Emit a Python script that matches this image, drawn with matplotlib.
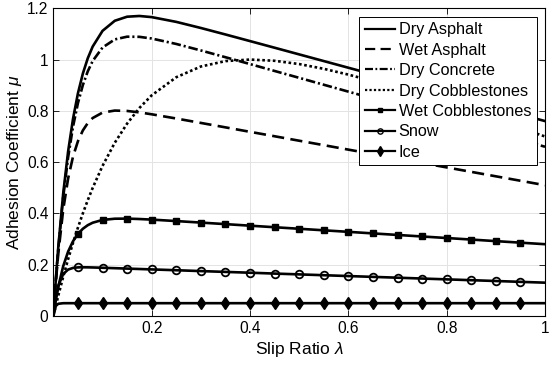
import matplotlib
matplotlib.use("Agg")
import matplotlib.pyplot as plt
from matplotlib.lines import Line2D

plt.rcParams['font.family'] = ['Liberation Sans', 'DejaVu Sans']
plt.rcParams['mathtext.fontset'] = 'custom'
plt.rcParams['mathtext.it'] = 'Liberation Sans:italic'
plt.rcParams['mathtext.rm'] = 'Liberation Sans'

# slip ratio samples
slip = [0, 0.005, 0.01, 0.02, 0.03, 0.04, 0.05, 0.06, 0.07, 0.08, 0.1, 0.125, 0.15, 0.175, 0.2,
        0.25, 0.3, 0.35, 0.4, 0.45, 0.5, 0.55, 0.6, 0.65, 0.7, 0.75, 0.8, 0.85, 0.9, 0.95, 1.0]

dry_asphalt = [0, 0.1421, 0.2678, 0.4774, 0.6412, 0.7690, 0.8684, 0.9454, 1.0050, 1.0507, 1.1119,
               1.1513, 1.1671, 1.1699, 1.1655, 1.1469, 1.1231, 1.0978, 1.0720, 1.0461, 1.0201,
               0.9941, 0.9681, 0.9421, 0.9161, 0.8901, 0.8641, 0.8381, 0.8121, 0.7861, 0.7601]
wet_asphalt = [0, 0.1316, 0.2425, 0.4143, 0.5359, 0.6216, 0.6817, 0.7236, 0.7524, 0.7720, 0.7932,
               0.8011, 0.7996, 0.7940, 0.7866, 0.7701, 0.7529, 0.7356, 0.7182, 0.7009, 0.6835,
               0.6662, 0.6488, 0.6315, 0.6141, 0.5968, 0.5794, 0.5621, 0.5447, 0.5274, 0.5100]
dry_concrete = [0, 0.1389, 0.2610, 0.4628, 0.6184, 0.7383, 0.8303, 0.9006, 0.9541, 0.9945, 1.0469,
                1.0786, 1.0892, 1.0886, 1.0820, 1.0608, 1.0355, 1.0091, 0.9824, 0.9555, 0.9287,
                0.9018, 0.8749, 0.8481, 0.8212, 0.7943, 0.7675, 0.7406, 0.7137, 0.6869, 0.6600]
dry_cobble = [0, 0.0402, 0.0791, 0.1527, 0.2214, 0.2853, 0.3448, 0.4002, 0.4517, 0.4996, 0.5853,
              0.6758, 0.7503, 0.8112, 0.8605, 0.9311, 0.9729, 0.9940, 1.0000, 0.9952, 0.9824,
              0.9639, 0.9413, 0.9157, 0.8880, 0.8587, 0.8282, 0.7969, 0.7650, 0.7327, 0.7000]
wet_cobble = [0, 0.0615, 0.1134, 0.1940, 0.2511, 0.2916, 0.3202, 0.3402, 0.3542, 0.3638, 0.3746,
              0.3794, 0.3798, 0.3782, 0.3759, 0.3702, 0.3643, 0.3583, 0.3522, 0.3462, 0.3402,
              0.3342, 0.3282, 0.3221, 0.3161, 0.3101, 0.3041, 0.2981, 0.2920, 0.2860, 0.2800]
snow = [0, 0.0727, 0.1180, 0.1637, 0.1811, 0.1875, 0.1896, 0.1900, 0.1898, 0.1893, 0.1881,
        0.1865, 0.1849, 0.1833, 0.1817, 0.1785, 0.1752, 0.1720, 0.1688, 0.1655, 0.1623,
        0.1591, 0.1558, 0.1526, 0.1494, 0.1461, 0.1429, 0.1397, 0.1365, 0.1332, 0.1300]
ice = [0, 0.0392, 0.0477, 0.0499] + [0.05] * 27

labels = ['Dry Asphalt', 'Wet Asphalt', 'Dry Concrete', 'Dry Cobblestones',
          'Wet Cobblestones', 'Snow', 'Ice']

# markers every 0.05
mk = [i for i, s in enumerate(slip) if 0 < s < 1 and abs(s * 20 - round(s * 20)) < 1e-9]

lw = 1.9
styles = [
    dict(ls='-'),
    dict(ls=(0, (4.6, 2.4))),
    dict(ls=(0, (3.6, 1.1, 0.8, 1.1))),
    dict(ls=(0, (1.0, 1.0))),
    dict(ls='-', marker='s', ms=5),
    dict(ls='-', marker='o', ms=5.5, mfc='none', mew=1.3),
    dict(ls='-', marker='d', ms=6, mew=1),
]
legend_ms = [None, None, None, None, 3.5, 3.8, 5]
series = [dry_asphalt, wet_asphalt, dry_concrete, dry_cobble, wet_cobble, snow, ice]

fig = plt.figure(figsize=(5.5, 3.69), dpi=100)
ax = fig.add_axes([0.097, 0.1436, 0.894, 0.834])

handles = []
for y, st, lms in zip(series, styles, legend_ms):
    ax.plot(slip, y, color='k', lw=lw, markevery=mk if 'marker' in st else None, **st)
    hst = dict(st)
    if lms:
        hst['ms'] = lms
        hst['mew'] = 1.0
    handles.append(Line2D([], [], color='k', lw=1.6, **hst))

ax.set_xlim(0, 1)
ax.set_ylim(0, 1.2)
ax.set_xticks([0, 0.2, 0.4, 0.6, 0.8, 1.0])
ax.set_xticklabels(['', '0.2', '0.4', '0.6', '0.8', '1'])
ax.set_yticks([0, 0.2, 0.4, 0.6, 0.8, 1.0, 1.2])
ax.set_yticklabels(['0', '0.2', '0.4', '0.6', '0.8', '1', '1.2'])
ax.tick_params(direction='in', top=True, right=True, length=4, width=0.6, labelsize=11.2)
ax.grid(True, color='#e3e3e3', lw=0.7)
ax.set_axisbelow(True)
for sp in ax.spines.values():
    sp.set_linewidth(0.8)

ax.set_xlabel(r'Slip Ratio $\lambda$', fontsize=12.5, labelpad=3)
ax.set_ylabel(r'Adhesion Coefficient $\mu$', fontsize=12.5, labelpad=2)

leg = ax.legend(handles, labels, loc='upper right', bbox_to_anchor=(0.9835, 0.9725),
                borderaxespad=0, fontsize=11.7, fancybox=False, framealpha=1,
                edgecolor='k', handlelength=1.9, handletextpad=0.2, labelspacing=0.33,
                borderpad=0.35)
leg.get_frame().set_linewidth(0.7)

fig.savefig('out.png', dpi=100)
